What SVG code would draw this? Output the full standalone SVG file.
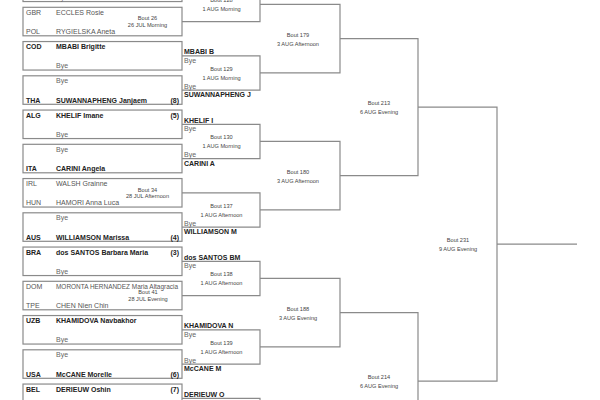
<svg xmlns="http://www.w3.org/2000/svg" width="600" height="400" viewBox="0 0 600 400">
<style>
text{font-family:"Liberation Sans",Arial,sans-serif}
.box{fill:none;stroke:#8a8a8a;stroke-width:1.2}
.ln{fill:none;stroke:#8a8a8a;stroke-width:1.2}
.c{font-size:7px;fill:#555}
.cb{font-size:7px;fill:#222;font-weight:bold}
.n{font-size:7px;fill:#555}
.nb{font-size:7px;fill:#222;font-weight:bold}
.s{font-size:7px;fill:#222;font-weight:bold;text-anchor:end}
.bye{font-size:7px;fill:#666}
.w{font-size:7px;fill:#222;font-weight:bold}
.bt{font-size:5.6px;fill:#444;text-anchor:middle}
</style>
<rect width="600" height="400" fill="#fff"/>
<g id="connectors">
<path class="ln" d="M182 -12.7H260V21.55H182"/>
<path class="ln" d="M182 55.8H260V90.05H182"/>
<path class="ln" d="M182 124.3H260V158.55H182"/>
<path class="ln" d="M182 192.8H260V227.05H182"/>
<path class="ln" d="M182 261.3H260V295.55H182"/>
<path class="ln" d="M182 329.8H260V364.05H182"/>
<path class="ln" d="M182 398.3H260V432.55H182"/>
<path class="ln" d="M260 4.425H340V72.925H260"/>
<path class="ln" d="M260 141.425H340V209.925H260"/>
<path class="ln" d="M260 278.425H340V346.925H260"/>
<path class="ln" d="M340 38.675H418V175.675H340"/>
<path class="ln" d="M340 312.675H418V449.675H340"/>
<path class="ln" d="M418 107.175H497V381.175H418"/>
<path class="ln" d="M497 244.175H577"/>
</g>
<g id="r1-m1"><rect class="box" x="23" y="-26.95" width="159" height="28.5"/><text class="bye" x="56" y="-0.15">Bye</text></g>
<g id="r1-b26"><rect class="box" x="23" y="7.3" width="159" height="28.5"/>
<text class="c" x="26" y="14.8">GBR</text><text class="n" x="56" y="14.8">ECCLES Rosie</text>
<text class="c" x="26" y="34.1">POL</text><text class="n" x="56" y="34.1">RYGIELSKA Aneta</text>
<text class="bt" x="147.5" y="20.3">Bout 26</text><text class="bt" x="147.5" y="27">26 JUL Morning</text></g>
<g id="r1-2"><rect class="box" x="23" y="41.55" width="159" height="28.5"/>
<text class="cb" x="26" y="49.05">COD</text><text class="nb" x="56" y="49.05">MBABI Brigitte</text>
<text class="bye" x="56" y="68.35">Bye</text></g>
<g id="r1-3"><rect class="box" x="23" y="75.8" width="159" height="28.5"/>
<text class="bye" x="56" y="83.3">Bye</text>
<text class="cb" x="26" y="102.6">THA</text><text class="nb" x="56" y="102.6">SUWANNAPHENG Janjaem</text><text class="s" x="179" y="102.6">(8)</text></g>
<g id="r1-4"><rect class="box" x="23" y="110.05" width="159" height="28.5"/>
<text class="cb" x="26" y="117.55">ALG</text><text class="nb" x="56" y="117.55">KHELIF Imane</text><text class="s" x="179" y="117.55">(5)</text>
<text class="bye" x="56" y="136.85">Bye</text></g>
<g id="r1-5"><rect class="box" x="23" y="144.3" width="159" height="28.5"/>
<text class="bye" x="56" y="151.8">Bye</text>
<text class="cb" x="26" y="171.1">ITA</text><text class="nb" x="56" y="171.1">CARINI Angela</text></g>
<g id="r1-b34"><rect class="box" x="23" y="178.55" width="159" height="28.5"/>
<text class="c" x="26" y="186.05">IRL</text><text class="n" x="56" y="186.05">WALSH Grainne</text>
<text class="c" x="26" y="205.35">HUN</text><text class="n" x="56" y="205.35">HAMORI Anna Luca</text>
<text class="bt" x="147.5" y="191.55">Bout 34</text><text class="bt" x="147.5" y="198.25">28 JUL Afternoon</text></g>
<g id="r1-7"><rect class="box" x="23" y="212.8" width="159" height="28.5"/>
<text class="bye" x="56" y="220.3">Bye</text>
<text class="cb" x="26" y="239.6">AUS</text><text class="nb" x="56" y="239.6">WILLIAMSON Marissa</text><text class="s" x="179" y="239.6">(4)</text></g>
<g id="r1-8"><rect class="box" x="23" y="247.05" width="159" height="28.5"/>
<text class="cb" x="26" y="254.55">BRA</text><text class="nb" x="56" y="254.55">dos SANTOS Barbara Maria</text><text class="s" x="179" y="254.55">(3)</text>
<text class="bye" x="56" y="273.85">Bye</text></g>
<g id="r1-b41"><rect class="box" x="23" y="281.3" width="159" height="28.5"/>
<text class="c" x="26" y="288.8">DOM</text><text class="n" x="56" y="288.8" textLength="122" lengthAdjust="spacingAndGlyphs">MORONTA HERNANDEZ Maria Altagracia</text>
<text class="c" x="26" y="308.1">TPE</text><text class="n" x="56" y="308.1">CHEN Nien Chin</text>
<text class="bt" x="148" y="294.3">Bout 41</text><text class="bt" x="148" y="301">28 JUL Evening</text></g>
<g id="r1-10"><rect class="box" x="23" y="315.55" width="159" height="28.5"/>
<text class="cb" x="26" y="323.05">UZB</text><text class="nb" x="56" y="323.05">KHAMIDOVA Navbakhor</text>
<text class="bye" x="56" y="342.35">Bye</text></g>
<g id="r1-11"><rect class="box" x="23" y="349.8" width="159" height="28.5"/>
<text class="bye" x="56" y="357.3">Bye</text>
<text class="cb" x="26" y="376.6">USA</text><text class="nb" x="56" y="376.6">McCANE Morelle</text><text class="s" x="179" y="376.6">(6)</text></g>
<g id="r1-12"><rect class="box" x="23" y="384.05" width="159" height="28.5"/>
<text class="cb" x="26" y="391.55">BEL</text><text class="nb" x="56" y="391.55">DERIEUW Oshin</text><text class="s" x="179" y="391.55">(7)</text></g>

<g id="b128"><text class="bt" x="221.5" y="2.2">Bout 128</text><text class="bt" x="221.5" y="11.2">1 AUG Morning</text></g>
<g id="b129"><text class="w" x="184" y="54.3">MBABI B</text><text class="bye" x="184" y="62.8">Bye</text>
<text class="bt" x="221.5" y="70.7">Bout 129</text><text class="bt" x="221.5" y="79.7">1 AUG Morning</text>
<text class="bye" x="184" y="88.55">Bye</text><text class="w" x="184" y="97.05">SUWANNAPHENG J</text></g>
<g id="b130"><text class="w" x="184" y="122.8">KHELIF I</text><text class="bye" x="184" y="131.3">Bye</text>
<text class="bt" x="221.5" y="139.2">Bout 130</text><text class="bt" x="221.5" y="148.2">1 AUG Morning</text>
<text class="bye" x="184" y="157.05">Bye</text><text class="w" x="184" y="165.55">CARINI A</text></g>
<g id="b137"><text class="bt" x="221.5" y="207.7">Bout 137</text><text class="bt" x="221.5" y="216.7">1 AUG Afternoon</text>
<text class="bye" x="184" y="225.55">Bye</text><text class="w" x="184" y="234.05">WILLIAMSON M</text></g>
<g id="b138"><text class="w" x="184" y="259.8">dos SANTOS BM</text><text class="bye" x="184" y="268.3">Bye</text>
<text class="bt" x="221.5" y="276.2">Bout 138</text><text class="bt" x="221.5" y="285.2">1 AUG Afternoon</text></g>
<g id="b139"><text class="w" x="184" y="328.3">KHAMIDOVA N</text><text class="bye" x="184" y="336.8">Bye</text>
<text class="bt" x="221.5" y="344.7">Bout 139</text><text class="bt" x="221.5" y="353.7">1 AUG Afternoon</text>
<text class="bye" x="184" y="362.55">Bye</text><text class="w" x="184" y="371.05">McCANE M</text></g>
<g id="b-next"><text class="w" x="184" y="396.8">DERIEUW O</text></g>

<g id="b179"><text class="bt" x="298" y="36.5">Bout 179</text><text class="bt" x="298" y="45.5">3 AUG Afternoon</text></g>
<g id="b180"><text class="bt" x="298" y="173.5">Bout 180</text><text class="bt" x="298" y="182.5">3 AUG Afternoon</text></g>
<g id="b188"><text class="bt" x="298" y="310.5">Bout 188</text><text class="bt" x="298" y="319.5">3 AUG Evening</text></g>
<g id="b213"><text class="bt" x="379" y="105">Bout 213</text><text class="bt" x="379" y="114">6 AUG Evening</text></g>
<g id="b214"><text class="bt" x="379" y="379">Bout 214</text><text class="bt" x="379" y="388">6 AUG Evening</text></g>
<g id="b231"><text class="bt" x="458" y="242">Bout 231</text><text class="bt" x="458" y="251">9 AUG Evening</text></g>
</svg>
